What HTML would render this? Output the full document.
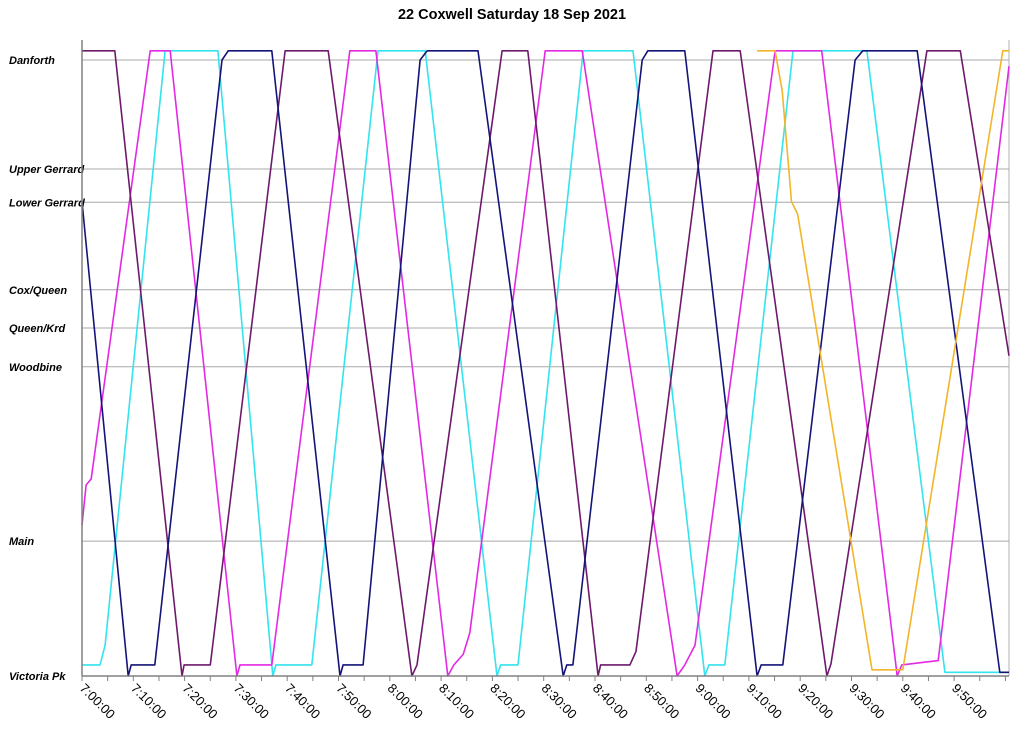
<!DOCTYPE html>
<html><head><meta charset="utf-8"><style>
body{margin:0;background:#fff;}
svg{display:block;font-family:"Liberation Sans",Arial,sans-serif;}
</style></head><body>
<svg id="chart" width="1024" height="736" xmlns="http://www.w3.org/2000/svg">
<rect width="1024" height="736" fill="#fff"/>
<text x="512" y="19" text-anchor="middle" font-weight="bold" font-size="14.5" fill="#000">22 Coxwell Saturday 18 Sep 2021</text>
<g id="grid"></g>
<g id="ylabels"></g>
<g id="series"></g>
<g id="xaxis"></g>
</svg>
<script>
// Stations (position units: Victoria Pk = 0, Danforth = 100)
const stationNames = ["Danforth","Upper Gerrard","Lower Gerrard","Cox/Queen","Queen/Krd","Woodbine","Main","Victoria Pk"];
const stationPos = [100, 82.3, 76.9, 62.7, 56.5, 50.2, 21.9, 0];
// x ticks in minutes after 7:00
const tickLabels = ["7:00:00","7:10:00","7:20:00","7:30:00","7:40:00","7:50:00","8:00:00","8:10:00","8:20:00","8:30:00","8:40:00","8:50:00","9:00:00","9:10:00","9:20:00","9:30:00","9:40:00","9:50:00"];
const tickMinutes = [0,10,20,30,40,50,60,70,80,90,100,110,120,130,140,150,160,170];
// Series: [minute, position]
const purpleData = [[0,101.5],[6.4,101.5],[19.5,0],[19.9,1.8],[25.0,1.8],[39.6,101.5],[48.0,101.5],[64.3,0],[65.3,1.8],[81.9,101.5],[86.9,101.5],[100.6,0],[101.1,1.8],[106.8,1.8],[108.0,4],[123.0,101.5],[128.3,101.5],[145.2,0],[146.0,2],[164.7,101.5],[171.2,101.5],[180.7,52]];
const magentaData = [[0,24.5],[0.8,31],[1.8,32],[13.3,101.5],[17.2,101.5],[30.2,0],[30.8,1.8],[37.0,1.8],[52.2,101.5],[57.3,101.5],[71.3,0],[72.5,1.8],[74.3,3.5],[75.6,7],[90.3,101.5],[97.5,101.5],[116.0,0],[117.5,1.8],[119.5,5],[135.1,101.5],[144.2,101.5],[158.9,0],[159.8,1.8],[166.9,2.5],[180.7,99]];
const cyanData = [[0,1.8],[3.5,1.8],[4.5,5],[16.2,101.5],[26.5,101.5],[37.2,0],[37.8,1.8],[44.8,1.8],[57.7,101.5],[66.9,101.5],[80.9,0],[81.6,1.8],[85.0,1.8],[97.7,101.5],[107.4,101.5],[121.4,0],[122.2,1.8],[125.3,1.8],[138.6,101.5],[153.0,101.5],[168.2,0.6],[180.7,0.6]];
const navyData = [[0,77],[9.0,0],[9.6,1.8],[14.2,1.8],[27.3,100],[28.5,101.5],[37.0,101.5],[50.3,0],[50.9,1.8],[54.8,1.8],[65.9,100],[67.3,101.5],[77.2,101.5],[93.8,0],[94.5,1.8],[95.7,1.8],[109.2,100],[110.3,101.5],[117.5,101.5],[131.6,0],[132.4,1.8],[136.6,1.8],[150.7,100],[152.2,101.5],[162.8,101.5],[178.9,0.6],[180.7,0.6]];
const yellowData = [[131.6,101.5],[135.1,101.5],[136.5,95],[138.3,77],[139.5,75],[154.0,1.0],[160.0,1.0],[179.5,101.5],[180.7,101.5]];
const seriesList = [
  {name:"cyan-bus", color:"#33e3ee", data:cyanData},
  {name:"magenta-bus", color:"#e22ae2", data:magentaData},
  {name:"purple-bus", color:"#6e1a6c", data:purpleData},
  {name:"navy-bus", color:"#141478", data:navyData},
  {name:"yellow-bus", color:"#f2b52a", data:yellowData}
];
const X0=82, PXMIN=5.13, Y0=676, PXU=6.16, XR=1009, YT=40;
const xs = m => X0 + m*PXMIN;
const ys = v => Y0 - v*PXU;
const NS="http://www.w3.org/2000/svg";
function mk(tag, attrs, parent){const e=document.createElementNS(NS,tag);for(const k in attrs)e.setAttribute(k,attrs[k]);parent.appendChild(e);return e;}
const grid=document.getElementById('grid'), yl=document.getElementById('ylabels'), sg=document.getElementById('series'), xa=document.getElementById('xaxis');
stationNames.forEach((n,i)=>{
  const y=ys(stationPos[i]);
  const l=mk('line',{x1:X0,x2:XR,y1:y,y2:y,stroke:'#a8a8a8','stroke-width':1},grid);
  
  
  const t=mk('text',{x:9,y:y+4,'font-size':11,'font-weight':'bold','font-style':'italic',fill:'#000'},yl);
  t.textContent=n;
  
  
});
const rb=mk('line',{x1:XR,x2:XR,y1:YT,y2:Y0,stroke:'#b0b0b0','stroke-width':1},grid);


seriesList.forEach(s=>{
  const d=s.data.map((p,i)=>(i?'L':'M')+xs(p[0]).toFixed(1)+','+ys(p[1]).toFixed(1)).join(' ');
  const p=mk('path',{d:d,fill:'none',stroke:s.color,'stroke-width':1.6,'stroke-linejoin':'round'},sg);
  
  
});
const ax=mk('line',{x1:X0,x2:X0,y1:YT,y2:Y0,stroke:'#808080','stroke-width':1.5},xa);


const bx=mk('line',{x1:X0,x2:XR,y1:Y0,y2:Y0,stroke:'#808080','stroke-width':1.5},xa);


for(let m=0;m<=180;m+=5){
  const tk=mk('line',{x1:xs(m),x2:xs(m),y1:Y0,y2:Y0+5,stroke:'#808080','stroke-width':1},xa);
  
  
}
tickLabels.forEach((lab,i)=>{
  const x=xs(tickMinutes[i])-3, y=Y0+13;
  const t=mk('text',{x:x,y:y,'font-size':13,fill:'#000',transform:'rotate(45 '+x+' '+y+')'},xa);
  t.textContent=lab;
  
  
});
</script>
</body></html>
